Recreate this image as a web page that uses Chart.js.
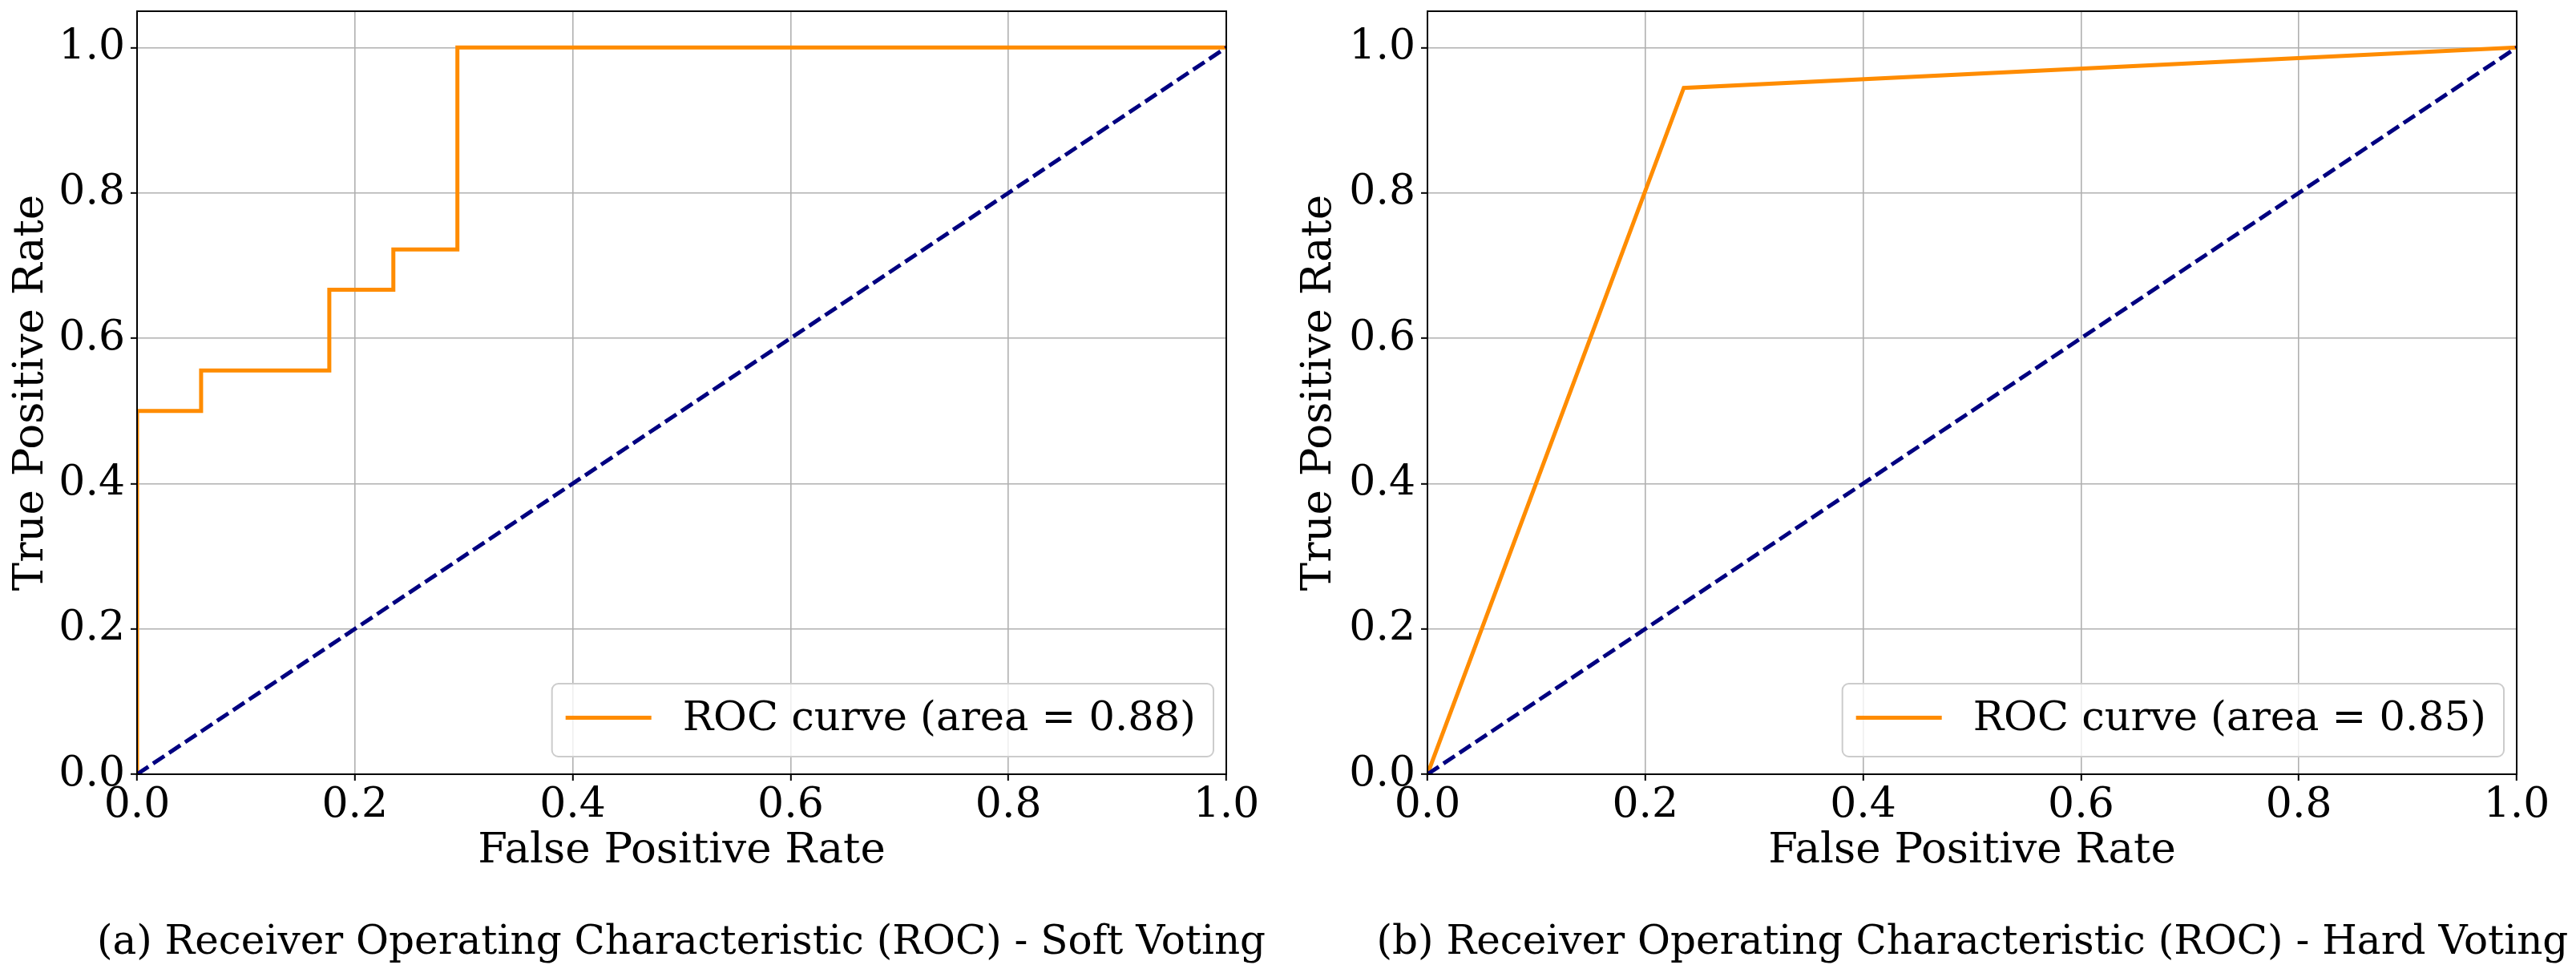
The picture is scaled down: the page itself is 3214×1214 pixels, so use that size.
<!DOCTYPE html>
<html>
<head>
<meta charset="utf-8">
<script src="https://cdn.jsdelivr.net/npm/chart.js@4.4.1/dist/chart.umd.min.js"></script>
<style>
  html, body { margin: 0; padding: 0; background: #fff; }
  body { width: 3214px; height: 1214px; position: relative; overflow: hidden; font-family: 'DejaVu Serif', serif; }
  .panel { position: absolute; top: 0; width: 1607px; height: 1100px; }
  .panel canvas { position: absolute; left: 0; top: 0; }
  .caption { position: absolute; top: 1148px; font-size: 50px; line-height: 1; white-space: nowrap; transform: translateX(-50%); color: #000; }
</style>
</head>
<body>
<div class="panel" style="left:0"><canvas id="softChart" width="1607" height="1100"></canvas></div>
<div class="panel" style="left:1607px"><canvas id="hardChart" width="1607" height="1100"></canvas></div>
<div class="caption" id="softCaption" style="left:850px"></div>
<div class="caption" id="hardCaption" style="left:2461px"></div>
<script>
const xTicks = [0, 0.2, 0.4, 0.6, 0.8, 1.0];
const yTicks = [0, 0.2, 0.4, 0.6, 0.8, 1.0];

// soft voting: step curve
const softFpr = [0, 0, 0.0588, 0.0588, 0.1765, 0.1765, 0.2353, 0.2353, 0.2941, 0.2941, 1];
const softTpr = [0, 0.5, 0.5, 0.5556, 0.5556, 0.6667, 0.6667, 0.7222, 0.7222, 1, 1];
const softAuc = 0.88;

// hard voting: single threshold
const hardFpr = [0, 0.2353, 1];
const hardTpr = [0, 0.9444, 1];
const hardAuc = 0.85;

const chanceFpr = [0, 1];
const chanceTpr = [0, 1];

const captions = [
  '(a) Receiver Operating Characteristic (ROC) - Soft Voting',
  '(b) Receiver Operating Characteristic (ROC) - Hard Voting'
];

const FONT = 'DejaVu Serif';
const TICK_FS = 52;
const TITLE_FS = 53;
const LEGEND_FS = 51;

const toPoints = (xs, ys) => xs.map((x, i) => ({ x, y: ys[i] }));

const roundRect = (ctx, x, y, w, h, r) => {
  ctx.beginPath();
  ctx.moveTo(x + r, y);
  ctx.arcTo(x + w, y, x + w, y + h, r);
  ctx.arcTo(x + w, y + h, x, y + h, r);
  ctx.arcTo(x, y + h, x, y, r);
  ctx.arcTo(x, y, x + w, y, r);
  ctx.closePath();
};

// axes frame on top of lines + matplotlib-like legend in lower right
const frameAndLegend = {
  id: 'frameAndLegend',
  afterDatasetsDraw(chart) {
    const { ctx, chartArea: a } = chart;
    ctx.save();
    ctx.strokeStyle = '#000';
    ctx.lineWidth = 2;
    ctx.strokeRect(a.left, a.top, a.right - a.left, a.bottom - a.top);

    const ds = chart.data.datasets.find((d) => d.inLegend);
    ctx.font = `${LEGEND_FS}px "${FONT}"`;
    const tw = ctx.measureText(ds.label).width;
    const w = 17 + 107 + 39 + tw + 22;
    const h = 91;
    const bx = a.right - 16 - w;
    const by = a.bottom - 22 - h;
    roundRect(ctx, bx, by, w, h, 8);
    ctx.fillStyle = 'rgba(255,255,255,0.8)';
    ctx.fill();
    ctx.strokeStyle = '#cccccc';
    ctx.lineWidth = 2;
    ctx.stroke();

    const cy = by + h / 2 - 3;
    ctx.beginPath();
    ctx.moveTo(bx + 17, cy);
    ctx.lineTo(bx + 124, cy);
    ctx.strokeStyle = ds.borderColor;
    ctx.lineWidth = ds.borderWidth;
    ctx.stroke();

    ctx.fillStyle = '#000';
    ctx.textBaseline = 'middle';
    ctx.textAlign = 'left';
    ctx.fillText(ds.label, bx + 163, cy + 2);
    ctx.restore();
  }
};

const makeRoc = (canvasId, fpr, tpr, auc, axisWidth, rightPad) => {
  const ctx = document.getElementById(canvasId).getContext('2d');
  return new Chart(ctx, {
    type: 'line',
    data: {
      datasets: [
        {
          label: `ROC curve (area = ${auc.toFixed(2)})`,
          inLegend: true,
          data: toPoints(fpr, tpr),
          borderColor: '#ff8c00',
          borderWidth: 5,
          pointRadius: 0,
          tension: 0,
          fill: false,
          clip: 0,
          order: 1
        },
        {
          label: 'chance',
          data: toPoints(chanceFpr, chanceTpr),
          borderColor: '#000080',
          borderWidth: 5,
          borderDash: [17, 7],
          pointRadius: 0,
          tension: 0,
          fill: false,
          clip: 0,
          order: 0
        }
      ]
    },
    options: {
      responsive: false,
      animation: false,
      devicePixelRatio: 1,
      layout: { padding: { top: 14, right: rightPad, left: 0, bottom: 0 } },
      plugins: {
        legend: { display: false },
        tooltip: { enabled: false }
      },
      scales: {
        x: {
          type: 'linear',
          min: 0,
          max: 1,
          afterBuildTicks: (scale) => { scale.ticks = xTicks.map((v) => ({ value: v })); },
          afterFit: (scale) => {
            scale.height = 134;
            scale.paddingLeft = 0;
            scale.paddingRight = 0;
          },
          ticks: {
            autoSkip: false,
            maxRotation: 0,
            color: '#000',
            padding: 0,
            font: { family: FONT, size: TICK_FS },
            callback: (v) => v.toFixed(1)
          },
          grid: { color: '#b0b0b0', lineWidth: 1.6, tickLength: 8, tickColor: '#000', tickWidth: 2 },
          border: { display: false },
          title: {
            display: true,
            text: 'False Positive Rate',
            color: '#000',
            font: { family: FONT, size: TITLE_FS, lineHeight: 1 },
            padding: { top: 0, bottom: 11 }
          }
        },
        y: {
          type: 'linear',
          min: 0,
          max: 1.05,
          afterBuildTicks: (scale) => { scale.ticks = yTicks.map((v) => ({ value: v })); },
          afterFit: (scale) => {
            scale.width = axisWidth;
            scale.paddingTop = 0;
            scale.paddingBottom = 0;
          },
          ticks: {
            autoSkip: false,
            color: '#000',
            padding: 7,
            font: { family: FONT, size: TICK_FS },
            callback: (v) => v.toFixed(1)
          },
          grid: { color: '#b0b0b0', lineWidth: 1.6, tickLength: 8, tickColor: '#000', tickWidth: 2 },
          border: { display: false },
          title: {
            display: true,
            text: 'True Positive Rate',
            color: '#000',
            font: { family: FONT, size: TITLE_FS, lineHeight: 1 },
            padding: { top: 13, bottom: 0 }
          }
        }
      }
    },
    plugins: [frameAndLegend]
  });
};

document.getElementById('softCaption').textContent = captions[0];
document.getElementById('hardCaption').textContent = captions[1];

makeRoc('softChart', softFpr, softTpr, softAuc, 171, 77);
makeRoc('hardChart', hardFpr, hardTpr, hardAuc, 174, 74);
</script>
</body>
</html>
